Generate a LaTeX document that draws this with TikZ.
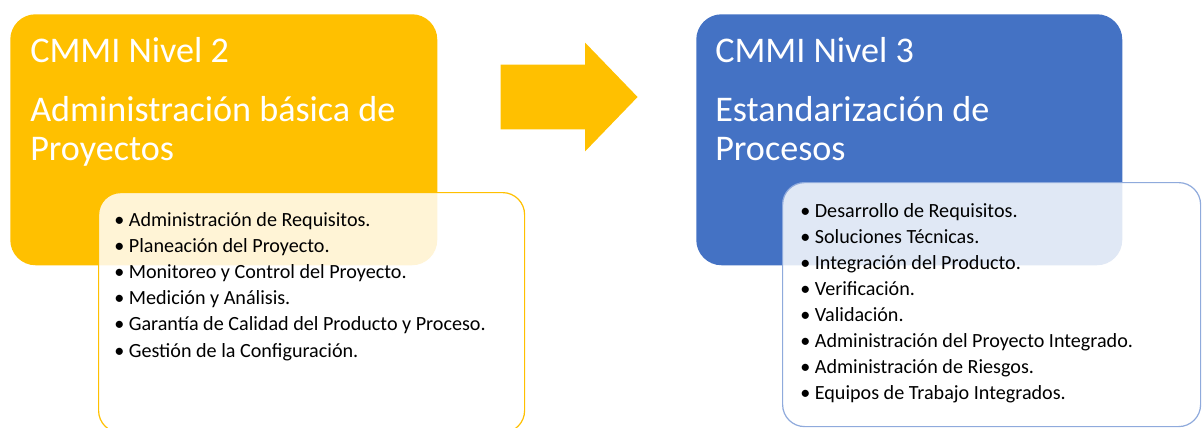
\documentclass[tikz,border=0pt]{standalone}
\usepackage{fontspec}
\setmainfont{Carlito}
\usetikzlibrary{positioning,shapes.arrows}
\definecolor{cmmiorange}{HTML}{FFC000}
\definecolor{cmmiblue}{HTML}{4472C4}
\definecolor{cmmiline}{HTML}{8FAADC}

\begin{document}
\begin{tikzpicture}[
    x=0.75pt, y=-0.75pt,
    lvlbox/.style={rectangle, rounded corners=19pt, inner sep=0pt, anchor=north west, minimum height=188.25pt},
    listbox/.style={rectangle, rounded corners=16.5pt, inner sep=0pt, anchor=north west, fill=white, fill opacity=0.84, line width=0.9pt},
    title/.style={anchor=base west, inner sep=0pt, text=white, font=\fontsize{27.1}{29.4}\selectfont},
    subtitle/.style={title, anchor=north west, align=left},
    item/.style={anchor=base west, inner sep=0pt, font=\fontsize{15.1}{19.5}\selectfont},
    bigarrow/.style={single arrow, fill=cmmiorange, inner xsep=0pt, inner ysep=24pt, minimum height=102.75pt, minimum width=81pt, single arrow head extend=16.5pt, single arrow tip angle=92}
]
    \useasboundingbox (0,0) rectangle (1202,428);
    \clip (0,0) rectangle (1202,428);

    % nivel 2
    \node[lvlbox, fill=cmmiorange, minimum width=320.25pt] (lvltwo) at (10,14) {};
    \node[title] (ttwo) at (30,63) {CMMI Nivel 2};
    \node[subtitle] (subtwo) at (30,96) {Administración básica de\\Proyectos};
    \node[listbox, draw=cmmiorange, minimum width=319.5pt, minimum height=180pt] (listtwo) at (98,192) {};
    \foreach \txt [count=\i] in {Administración de Requisitos., Planeación del Proyecto.,
        Monitoreo y Control del Proyecto., Medición y Análisis.,
        Garantía de Calidad del Producto y Proceso., Gestión de la Configuración.}
        \node[item] (itwo\i) at (114,226+26.2*\i-26.2) {\textbullet\ \txt};

    % flecha
    \node[bigarrow] (arr) at (553.5,97) {};

    % nivel 3
    \node[lvlbox, fill=cmmiblue, minimum width=319.5pt] (lvlthree) at (696,14) {};
    \node[title] (tthree) at (715,63) {CMMI Nivel 3};
    \node[subtitle] (subthree) at (715,96) {Estandarización de\\Procesos};
    \node[listbox, draw=cmmiline, minimum width=313.5pt, minimum height=183pt] (listthree) at (782,182) {};
    \foreach \txt [count=\i] in {Desarrollo de Requisitos., Soluciones Técnicas.,
        Integración del Producto., Verificación., Validación.,
        Administración del Proyecto Integrado., Administración de Riesgos.,
        Equipos de Trabajo Integrados.}
        \node[item] (ithree\i) at (800,217+26*\i-26) {\textbullet\ \txt};
\end{tikzpicture}
\end{document}
